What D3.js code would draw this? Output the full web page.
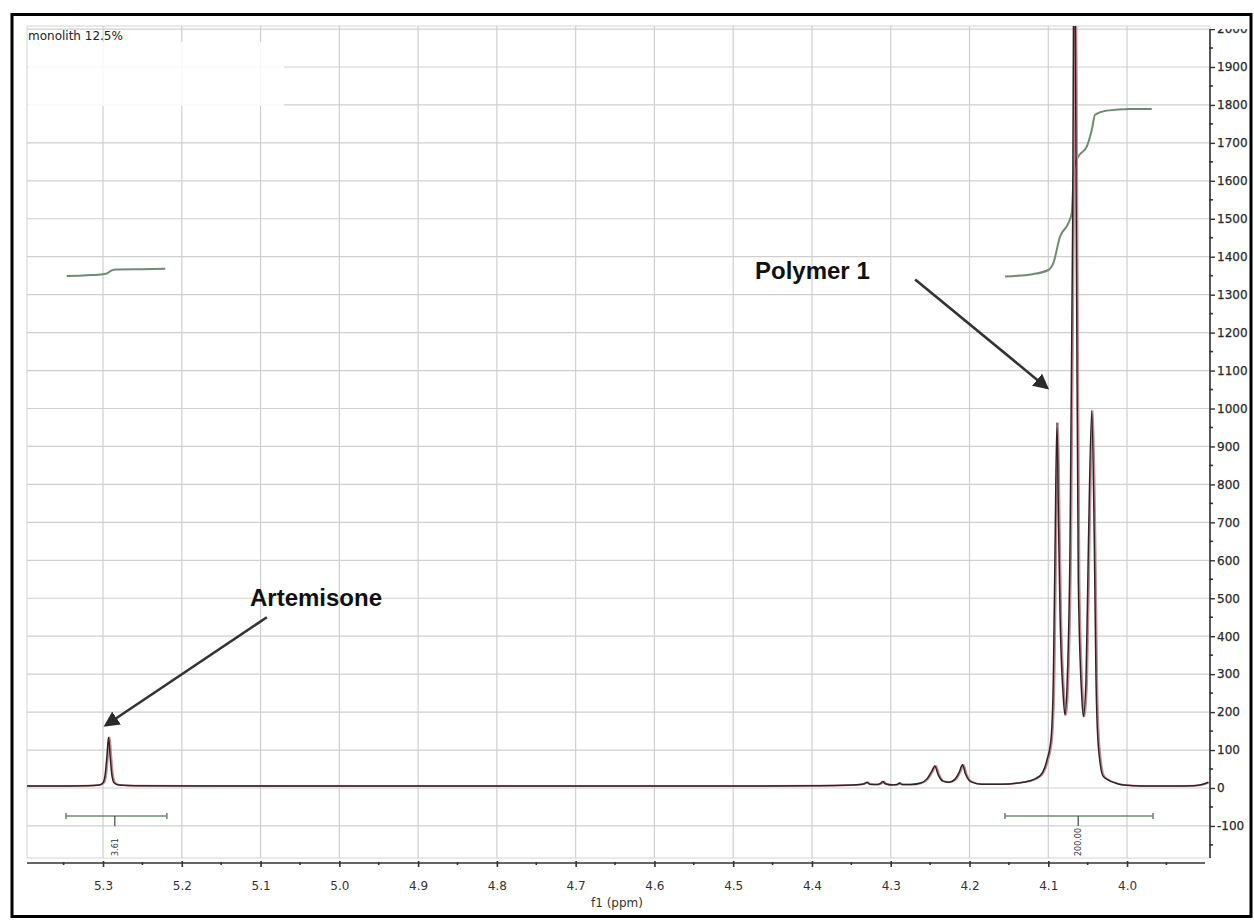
<!DOCTYPE html>
<html>
<head>
<meta charset="utf-8">
<script src="https://cdn.jsdelivr.net/npm/d3@7"></script>
<style>
  html, body { margin: 0; padding: 0; background: #fff; }
  svg { display: block; }
</style>
</head>
<body>
<svg id="chart" width="1254" height="920"></svg>
<script>
// 1H NMR spectrum, chemical shift in ppm (axis reversed), intensity on the right
const spectrumPpm = [
  5.397, 5.36, 5.32, 5.305, 5.300, 5.297, 5.295, 5.293, 5.291, 5.289, 5.286, 5.280, 5.26,
  5.00, 4.70, 4.50, 4.40, 4.36, 4.340, 4.333, 4.330, 4.327, 4.318, 4.313, 4.310, 4.307,
  4.298, 4.292, 4.289, 4.286, 4.275, 4.262, 4.254, 4.248, 4.244, 4.240, 4.234, 4.226,
  4.219, 4.213, 4.209, 4.205, 4.198, 4.185, 4.16, 4.13, 4.115, 4.107, 4.1015, 4.0965,
  4.0936, 4.0914, 4.089, 4.0870, 4.0851, 4.081, 4.0788, 4.0759, 4.0724, 4.0690, 4.0670,
  4.0645, 4.0619, 4.0575, 4.0555, 4.0521, 4.0491, 4.0448, 4.0415, 4.0394, 4.0364,
  4.0301, 4.015, 4.0047, 3.98, 3.94, 3.915, 3.905, 3.897
];
const spectrumIntensity = [
  5, 5, 6, 8, 14, 40, 85, 134, 85, 38, 14, 8, 6,
  5, 5, 5, 6, 7, 9, 12, 15, 10, 9, 12, 17, 11,
  8, 9, 13, 9, 9, 13, 24, 44, 58, 36, 18, 15,
  22, 42, 61, 36, 16, 10, 10, 16, 26, 42, 75, 130,
  285, 636, 963, 700, 461, 241, 192, 285, 636, 1500, 2400,
  1500, 548, 241, 188, 285, 636, 995, 636, 285, 109,
  30, 13, 8, 5, 5, 6, 9, 15
];

// Integral traces (running integral drawn over the signal regions)
const integralArtemisonePpm = [5.346, 5.320, 5.300, 5.294, 5.289, 5.283, 5.250, 5.221];
const integralArtemisoneVal = [1349, 1351, 1354, 1357, 1364, 1366, 1367, 1368];
const integralPolymerPpm = [4.155, 4.120, 4.100, 4.0936, 4.0851, 4.0746, 4.0703, 4.0670,
  4.0619, 4.0512, 4.0448, 4.0406, 4.0258, 3.9962, 3.9687];
const integralPolymerVal = [1348, 1354, 1365, 1383, 1453, 1488, 1515, 1638,
  1664, 1690, 1734, 1774, 1785, 1789, 1789];

// Integration ranges with their values
const integralFrom = [5.347, 4.155];
const integralTo = [5.219, 3.967];
const integralMark = [5.285, 4.062];
const integralLabels = ["3.61", "200.00"];

// Axis ticks
const xTicks = [5.3, 5.2, 5.1, 5.0, 4.9, 4.8, 4.7, 4.6, 4.5, 4.4, 4.3, 4.2, 4.1, 4.0];
const xMinorTicks = [5.35, 5.25, 5.15, 5.05, 4.95, 4.85, 4.75, 4.65, 4.55, 4.45, 4.35, 4.25, 4.15, 4.05, 3.95];
const yTicks = [-100, 0, 100, 200, 300, 400, 500, 600, 700, 800, 900, 1000,
  1100, 1200, 1300, 1400, 1500, 1600, 1700, 1800, 1900, 2000];
const yMinorTicks = [-150, -50, 50, 150, 250, 350, 450, 550, 650, 750, 850, 950, 1050,
  1150, 1250, 1350, 1450, 1550, 1650, 1750, 1850, 1950];

const svg = d3.select("#chart");
const W = 1254, H = 920;
const plot = { left: 27, right: 1210, top: 26, bottom: 858 };

const x = d3.scaleLinear().domain([5.3965, 3.8947]).range([plot.left, plot.right]);
const y = d3.scaleLinear().domain([-184.5, 2008]).range([plot.bottom, plot.top]);

const tickFont = "'DejaVu Sans', Verdana, sans-serif";

const defs = svg.append("defs");
defs.append("clipPath").attr("id", "plotClip")
  .append("rect").attr("x", plot.left).attr("y", plot.top)
  .attr("width", plot.right - plot.left).attr("height", plot.bottom - plot.top);
// the right axis group is translated to plot.right, so this clip is in its local space
defs.append("clipPath").attr("id", "yLabelClip")
  .append("rect").attr("x", -10).attr("y", plot.top + 3)
  .attr("width", W - plot.right + 10).attr("height", H - plot.top);

// Plot background frame
svg.append("rect")
  .attr("x", plot.left).attr("y", plot.top)
  .attr("width", plot.right - plot.left).attr("height", plot.bottom - plot.top)
  .attr("fill", "#fff").attr("stroke", "#d4d4d4").attr("stroke-width", 1);

// Grid
const grid = svg.append("g").attr("clip-path", "url(#plotClip)");
grid.selectAll("line.v").data(xTicks).join("line")
  .attr("x1", d => x(d)).attr("x2", d => x(d))
  .attr("y1", plot.top).attr("y2", plot.bottom)
  .attr("stroke", "#cfcfcf").attr("stroke-width", 1.2);
grid.selectAll("line.h").data(yTicks).join("line")
  .attr("x1", plot.left).attr("x2", plot.right)
  .attr("y1", d => y(d)).attr("y2", d => y(d))
  .attr("stroke", "#cfcfcf").attr("stroke-width", 1.2);

// Washed-out box behind the title
svg.append("rect")
  .attr("x", plot.left + 1).attr("y", 42).attr("width", 256).attr("height", 64)
  .attr("fill", "#fff").attr("opacity", 0.85);

svg.append("text")
  .attr("x", 28).attr("y", 40)
  .attr("font-family", tickFont).attr("font-size", 12)
  .attr("fill", "#222").text("monolith 12.5%");

// Integral traces
const intColor = "#6f8c72";
const integralLine = d3.line().x(d => x(d[0])).y(d => y(d[1])).curve(d3.curveMonotoneX);
const traceA = integralArtemisonePpm.map((p, i) => [p, integralArtemisoneVal[i]]);
const traceB = integralPolymerPpm.map((p, i) => [p, integralPolymerVal[i]]);
[traceA, traceB].forEach(t => {
  svg.append("path").datum(t).attr("d", integralLine)
    .attr("fill", "none").attr("stroke", intColor).attr("stroke-width", 2);
});

// Spectrum
const spec = spectrumPpm.map((p, i) => [p, spectrumIntensity[i]]);
const specLine = d3.line().x(d => x(d[0])).y(d => y(d[1])).curve(d3.curveMonotoneX);
const specG = svg.append("g").attr("clip-path", "url(#plotClip)");
specG.append("path").datum(spec).attr("d", specLine)
  .attr("transform", "translate(1.2,0)")
  .attr("fill", "none").attr("stroke", "#c48a92").attr("stroke-width", 1.8);
specG.append("path").datum(spec).attr("d", specLine)
  .attr("fill", "none").attr("stroke", "#2e2326").attr("stroke-width", 1.5);

// Integration range bars
const barY = y(-74);
integralFrom.forEach((f, i) => {
  const g = svg.append("g");
  g.append("line").attr("x1", x(f)).attr("x2", x(integralTo[i]))
    .attr("y1", barY).attr("y2", barY).attr("stroke", intColor).attr("stroke-width", 1.6);
  [f, integralTo[i]].forEach(e => g.append("line")
    .attr("x1", x(e)).attr("x2", x(e)).attr("y1", barY - 3).attr("y2", barY + 3)
    .attr("stroke", intColor).attr("stroke-width", 1.6));
  g.append("line").attr("x1", x(integralMark[i])).attr("x2", x(integralMark[i]))
    .attr("y1", barY).attr("y2", barY + 10).attr("stroke", "#444").attr("stroke-width", 1.2);
  g.append("text")
    .attr("transform", `translate(${x(integralMark[i]) + 3},${plot.bottom - 2}) rotate(-90)`)
    .attr("font-family", tickFont).attr("font-size", 8).attr("fill", "#334")
    .text(integralLabels[i]);
});

// Bottom axis
const xAxisY = 863;
const xAxis = svg.append("g").attr("transform", `translate(0,${xAxisY})`)
  .call(d3.axisBottom(x).tickValues(xTicks).tickSize(4).tickSizeOuter(0).tickPadding(14)
    .tickFormat(d3.format(".1f")));
xAxis.select(".domain").attr("stroke", "#333").attr("stroke-width", 1.6)
  .attr("d", `M${plot.left},0H${plot.right - 5}`);
xAxis.selectAll(".tick line").attr("y1", -2).attr("stroke", "#333").attr("stroke-width", 1.6);
xAxis.selectAll(".tick text").attr("font-family", tickFont).attr("font-size", 12).attr("fill", "#333");
svg.append("g").attr("transform", `translate(0,${xAxisY})`)
  .selectAll("line").data(xMinorTicks.filter(d => x(d) < plot.right - 6)).join("line")
  .attr("x1", d => x(d)).attr("x2", d => x(d)).attr("y1", -1).attr("y2", 2)
  .attr("stroke", "#333").attr("stroke-width", 1.6);

svg.append("text")
  .attr("x", 617).attr("y", 907).attr("text-anchor", "middle")
  .attr("font-family", tickFont).attr("font-size", 12).attr("fill", "#333")
  .text("f1 (ppm)");

// Right intensity axis
const yAxis = svg.append("g").attr("transform", `translate(${plot.right},0)`)
  .attr("clip-path", "url(#yLabelClip)")
  .call(d3.axisRight(y).tickValues(yTicks).tickSize(5).tickSizeOuter(0).tickPadding(2)
    .tickFormat(d => String(d)));
yAxis.select(".domain").attr("stroke", "#333").attr("stroke-width", 1.6)
  .attr("d", `M0,${plot.top}V${plot.bottom}`);
yAxis.selectAll(".tick line").attr("stroke", "#333").attr("stroke-width", 1.4);
yAxis.selectAll(".tick text").attr("font-family", tickFont).attr("font-size", 12)
  .attr("fill", "#2a2a2a").attr("stroke", "#2a2a2a").attr("stroke-width", 0.25);
svg.append("g").attr("transform", `translate(${plot.right},0)`)
  .selectAll("line").data(yMinorTicks).join("line")
  .attr("x1", -1).attr("x2", 3).attr("y1", d => y(d)).attr("y2", d => y(d))
  .attr("stroke", "#333").attr("stroke-width", 1.6);

// Annotations with arrows
defs.append("marker").attr("id", "arrowHead")
  .attr("viewBox", "0 0 10 10").attr("refX", 8).attr("refY", 5)
  .attr("markerWidth", 6).attr("markerHeight", 6).attr("orient", "auto")
  .append("path").attr("d", "M0,0L10,5L0,10z").attr("fill", "#2a2a2a");

const labelFont = "'Liberation Sans', Arial, sans-serif";
const notes = [
  { text: "Artemisone", tx: 250, ty: 606, from: [5.092, 450], to: [5.296, 166] },
  { text: "Polymer 1", tx: 755, ty: 279, from: [4.269, 1340], to: [4.102, 1055] }
];
notes.forEach(n => {
  svg.append("text").attr("x", n.tx).attr("y", n.ty)
    .attr("font-family", labelFont).attr("font-weight", "bold").attr("font-size", 24)
    .attr("fill", "#111").text(n.text);
  svg.append("line")
    .attr("x1", x(n.from[0])).attr("y1", y(n.from[1]))
    .attr("x2", x(n.to[0])).attr("y2", y(n.to[1]))
    .attr("stroke", "#333").attr("stroke-width", 2.6)
    .attr("marker-end", "url(#arrowHead)");
});

// Outer black frame
svg.append("rect").attr("x", 12).attr("y", 14.5).attr("width", 1239).attr("height", 902)
  .attr("fill", "none").attr("stroke", "#000").attr("stroke-width", 3);
</script>
</body>
</html>
